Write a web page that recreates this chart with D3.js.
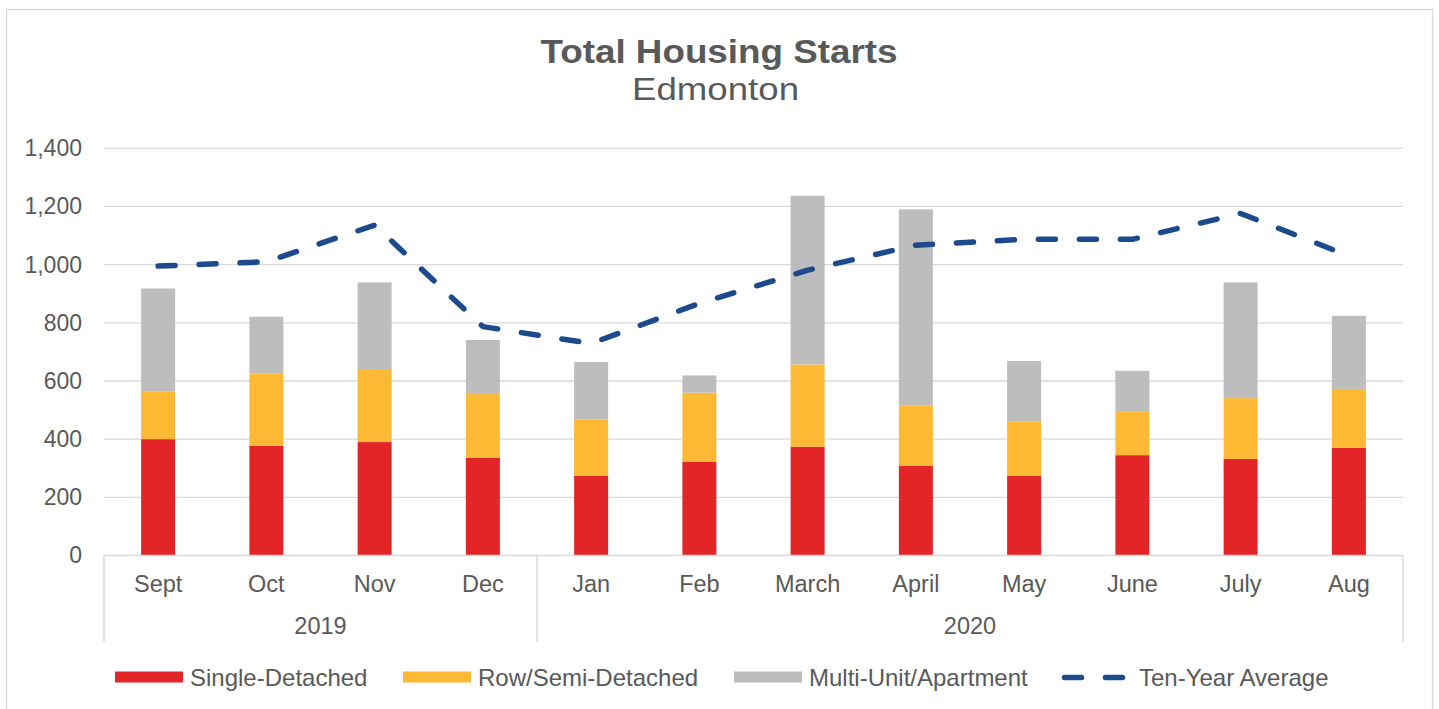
<!DOCTYPE html>
<html>
<head>
<meta charset="utf-8">
<script src="https://cdn.jsdelivr.net/npm/d3@7"></script>
<style>
    body { margin: 0; background: #fff; }
    text { font-family: "Liberation Sans", Arial, sans-serif; fill: #595959; }
</style>
</head>
<body>
<div id="chart"></div>
<script>
// data
var months = ["Sept", "Oct", "Nov", "Dec", "Jan", "Feb", "March", "April", "May", "June", "July", "Aug"];
var years = ["2019", "2020"];
var year_counts = [4, 8];
var single_detached = [400, 377, 390, 336, 274, 323, 374, 309, 274, 345, 332, 371];
var row_semi = [163, 249, 248, 219, 194, 237, 283, 206, 187, 151, 209, 202];
var multi_unit = [355, 195, 301, 186, 197, 59, 580, 675, 208, 139, 398, 251];
var ten_year_avg = [995, 1010, 1136, 787, 729, 867, 981, 1067, 1087, 1087, 1176, 1030];
var y_ticks = [0, 200, 400, 600, 800, 1000, 1200, 1400];

var attributes = ["single", "row", "multi"];
var legend_labels = ["Single-Detached", "Row/Semi-Detached", "Multi-Unit/Apartment", "Ten-Year Average"];
var colors = d3.scaleOrdinal().domain(attributes).range(["#e32528", "#fdb933", "#bdbdbd"]);
var line_color = "#1c4a8d";
var grid_color = "#d9d9d9";

var w = 1439;
var h = 709;

var dataset = months.map(function (m, i) {
    return {
        month: m,
        single: single_detached[i],
        row: row_semi[i],
        multi: multi_unit[i],
        avg: ten_year_avg[i]
    };
});

var svg = d3.select("#chart").append("svg").attr("width", w).attr("height", h);

// outer frame
svg.append("rect")
    .attr("x", 6.5).attr("y", 9.5)
    .attr("width", 1426).attr("height", 720)
    .attr("fill", "none")
    .attr("stroke", grid_color)
    .attr("stroke-width", 1.3);

// title (slightly wide lettering like the original)
svg.append("text")
    .attr("x", 540.5).attr("y", 63)
    .attr("font-size", "33px")
    .attr("font-weight", "bold")
    .attr("textLength", 357)
    .attr("lengthAdjust", "spacingAndGlyphs")
    .text("Total Housing Starts");

svg.append("text")
    .attr("x", 632).attr("y", 100)
    .attr("font-size", "32px")
    .attr("textLength", 167)
    .attr("lengthAdjust", "spacingAndGlyphs")
    .text("Edmonton");

// scales
var xScale = d3.scaleBand().domain(months).range([104, 1403]).paddingInner(0.686).paddingOuter(0.343);
var yScale = d3.scaleLinear().domain([0, 1400]).range([555.5, 148.3]);

// gridlines
svg.append("g").selectAll("line")
    .data(y_ticks.slice(1))
    .enter()
    .append("line")
    .attr("x1", 104).attr("x2", 1403)
    .attr("y1", function (d) { return yScale(d); })
    .attr("y2", function (d) { return yScale(d); })
    .attr("stroke", grid_color)
    .attr("stroke-width", 1.3);

// y axis labels
var yAxis = d3.axisLeft(yScale).tickValues(y_ticks).tickSize(0).tickPadding(0).tickFormat(d3.format(","));
var yAxisG = svg.append("g").attr("transform", "translate(82,0)").call(yAxis);
yAxisG.select(".domain").remove();
yAxisG.selectAll("text")
    .attr("font-size", "23px")
    .attr("font-family", "Liberation Sans, Arial, sans-serif")
    .attr("fill", "#595959");

// stacked bars
var stack = d3.stack().keys(attributes);
var series = stack(dataset);

var groups = svg.selectAll("g.series")
    .data(series)
    .enter()
    .append("g")
    .attr("class", "series")
    .attr("fill", function (d) { return colors(d.key); });

groups.selectAll("rect")
    .data(function (d) { return d; })
    .enter()
    .append("rect")
    .attr("x", function (d) { return xScale(d.data.month); })
    .attr("y", function (d) { return yScale(d[1]); })
    .attr("width", xScale.bandwidth())
    .attr("height", function (d) { return yScale(d[0]) - yScale(d[1]); });

// x axis baseline and year separators
svg.append("line")
    .attr("x1", 104).attr("x2", 1403)
    .attr("y1", 555.5).attr("y2", 555.5)
    .attr("stroke", grid_color)
    .attr("stroke-width", 1.5);

var step = xScale.step();
var bounds = [0];
for (var i = 0; i < year_counts.length; i++) {
    bounds.push(bounds[i] + year_counts[i]);
}

svg.append("g").selectAll("line")
    .data(bounds)
    .enter()
    .append("line")
    .attr("x1", function (d) { return 104 + d * step; })
    .attr("x2", function (d) { return 104 + d * step; })
    .attr("y1", 555.5).attr("y2", 642)
    .attr("stroke", grid_color)
    .attr("stroke-width", 1.5);

// month labels
svg.append("g").selectAll("text")
    .data(months)
    .enter()
    .append("text")
    .attr("x", function (d) { return xScale(d) + xScale.bandwidth() / 2; })
    .attr("y", 592)
    .attr("text-anchor", "middle")
    .attr("font-size", "23.5px")
    .text(function (d) { return d; });

// year labels
svg.append("g").selectAll("text")
    .data(years)
    .enter()
    .append("text")
    .attr("x", function (d, i) { return 104 + (bounds[i] + bounds[i + 1]) / 2 * step; })
    .attr("y", 634)
    .attr("text-anchor", "middle")
    .attr("font-size", "23.5px")
    .text(function (d) { return d; });

// ten-year average line
var line = d3.line()
    .x(function (d) { return xScale(d.month) + xScale.bandwidth() / 2; })
    .y(function (d) { return yScale(d.avg); });

svg.append("path")
    .datum(dataset)
    .attr("d", line)
    .attr("fill", "none")
    .attr("stroke", line_color)
    .attr("stroke-width", 5.5)
    .attr("stroke-linecap", "round")
    .attr("stroke-linejoin", "round")
    .attr("stroke-dasharray", "17 24");

// legend
var legend_x = [115, 403, 734];
var legend = svg.append("g");
for (var j = 0; j < attributes.length; j++) {
    legend.append("rect")
        .attr("x", legend_x[j]).attr("y", 671.5)
        .attr("width", 68).attr("height", 11)
        .attr("fill", colors(attributes[j]));
    legend.append("text")
        .attr("x", legend_x[j] + 75).attr("y", 685.5)
        .attr("font-size", "24px")
        .text(legend_labels[j]);
}

legend.append("line")
    .attr("x1", 1064.5).attr("x2", 1124.5)
    .attr("y1", 677.5).attr("y2", 677.5)
    .attr("stroke", line_color)
    .attr("stroke-width", 5.5)
    .attr("stroke-linecap", "round")
    .attr("stroke-dasharray", "17 24");
legend.append("text")
    .attr("x", 1139).attr("y", 685.5)
    .attr("font-size", "24px")
    .text(legend_labels[3]);
</script>
</body>
</html>
